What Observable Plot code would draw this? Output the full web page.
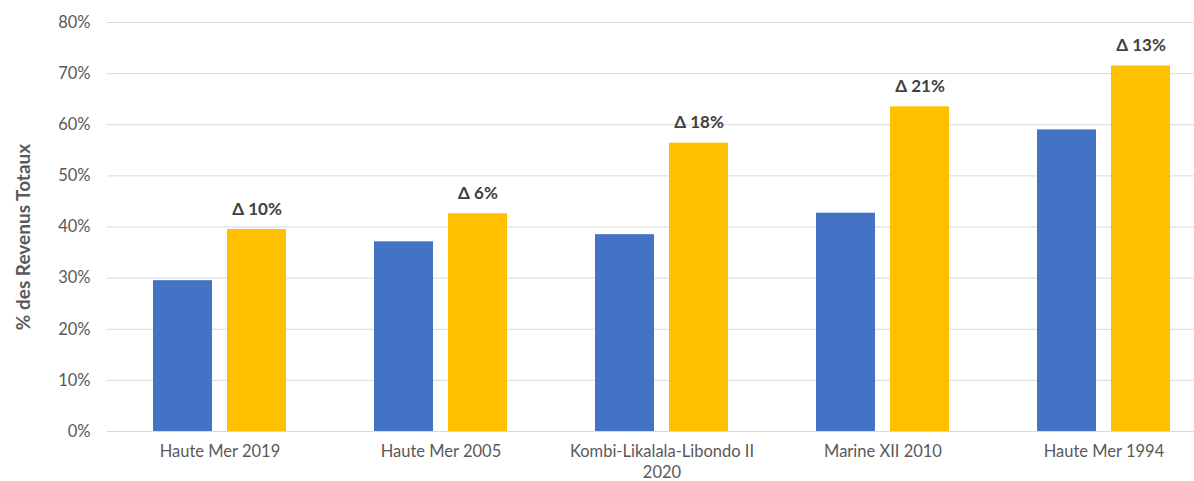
<!DOCTYPE html>
<html>
<head>
<meta charset="utf-8">
<script src="https://cdn.jsdelivr.net/npm/d3@7"></script>
<script src="https://cdn.jsdelivr.net/npm/@observablehq/plot@0.6"></script>
<style>
  html, body { margin: 0; padding: 0; background: #fff; }
  #chart svg { font-family: Lato, "Open Sans", sans-serif; }
</style>
</head>
<body>
<div id="chart"></div>
<script>
const categories = ["Haute Mer 2019", "Haute Mer 2005", "Kombi-Likalala-Libondo II 2020", "Marine XII 2010", "Haute Mer 1994"];
const tickLabels = ["Haute Mer 2019", "Haute Mer 2005", "Kombi-Likalala-Libondo II\n2020", "Marine XII 2010", "Haute Mer 1994"];
const blueValues = [0.295, 0.371, 0.385, 0.427, 0.590];
const yellowValues = [0.395, 0.426, 0.564, 0.635, 0.715];
const deltaLabels = ["Δ 10%", "Δ 6%", "Δ 18%", "Δ 21%", "Δ 13%"];
const yTicks = [0, 0.1, 0.2, 0.3, 0.4, 0.5, 0.6, 0.7, 0.8];

const blue = categories.map((c, i) => ({cat: c, v: blueValues[i]}));
const yellow = categories.map((c, i) => ({cat: c, v: yellowValues[i], label: deltaLabels[i]}));
const labelOf = new Map(categories.map((c, i) => [c, tickLabels[i]]));

const chart = Plot.plot({
  width: 1194,
  height: 481,
  marginTop: 22,
  marginBottom: 50,
  marginLeft: 107,
  marginRight: 0,
  x: {domain: categories, range: [107, 1215], paddingInner: 0.4, paddingOuter: 0.2, label: null},
  y: {domain: [0, 0.8], label: null},
  marks: [
    Plot.ruleY(yTicks, {stroke: "#d9d9d9", strokeWidth: 1}),
    Plot.axisY({ticks: yTicks, tickFormat: d3.format(".0%"), tickSize: 0, tickPadding: 17, fontSize: 16.5, color: "#595959", label: null}),
    Plot.axisX({tickSize: 0, tickPadding: 11, fontSize: 16.5, color: "#595959", tickFormat: d => labelOf.get(d), label: null, lineHeight: 1.25}),
    Plot.barY(blue, {x: "cat", y: "v", fill: "#4472C4", insetRight: 74}),
    Plot.barY(yellow, {x: "cat", y: "v", fill: "#FFC000", insetLeft: 74}),
    Plot.text(yellow, {x: "cat", y: "v", text: "label", dx: 37, dy: -15, lineAnchor: "bottom", fontSize: 17, fontWeight: "bold", fill: "#404040"}),
    Plot.text(["% des Revenus Totaux"], {frameAnchor: "left", textAnchor: "middle", rotate: -90, dx: -84, dy: 10, fontSize: 19, fontWeight: "bold", fill: "#595959"})
  ]
});
document.getElementById("chart").appendChild(chart);
</script>
</body>
</html>
